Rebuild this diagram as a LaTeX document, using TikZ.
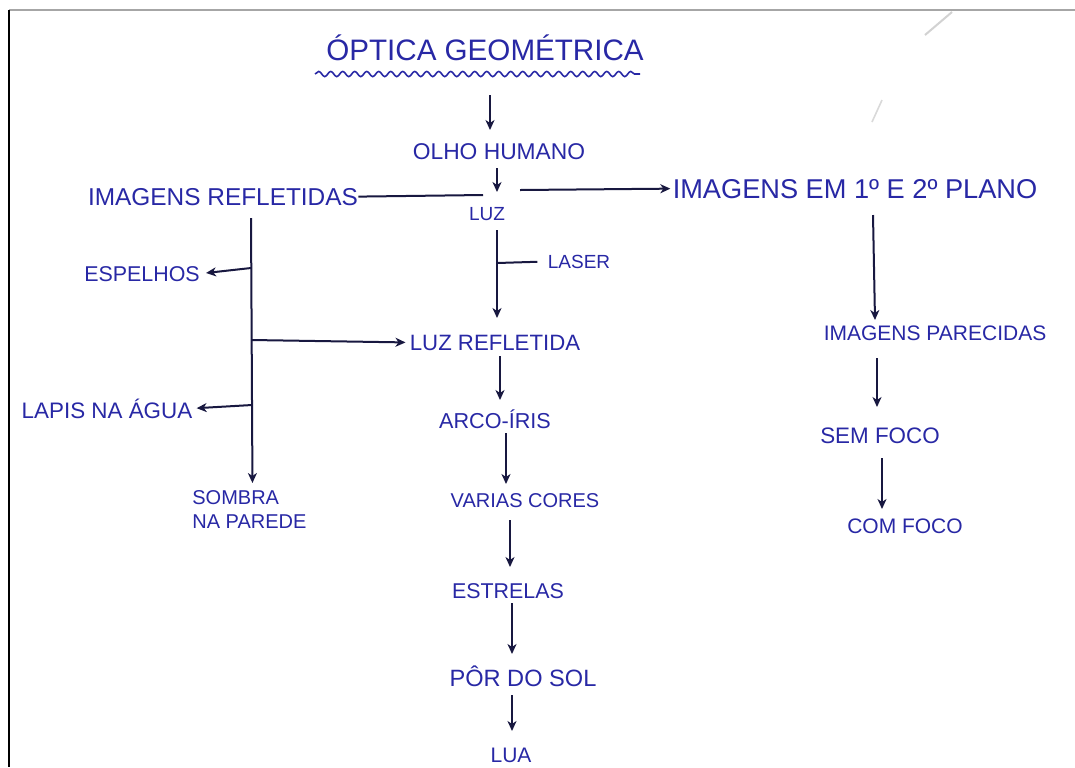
\documentclass[tikz,border=0pt]{standalone}
\usepackage{fontspec}
\setmainfont{Liberation Sans}
\usetikzlibrary{arrows.meta,decorations.pathmorphing}
\definecolor{ink}{RGB}{40,40,165}
\definecolor{pen}{RGB}{24,24,64}
\newcommand\fsz[1]{\fontsize{#1}{#1}\selectfont}
\begin{document}
\begin{tikzpicture}[x=0.5pt,y=-0.5pt,
  lbl/.style={text=ink, inner sep=0pt, anchor=base},
  arr/.style={draw=pen, line width=1pt, -{Stealth[length=5pt,width=4.5pt,inset=1.5pt]}},
  plain/.style={draw=pen, line width=1pt}]
\useasboundingbox (0,0) rectangle (1075,767);
\fill[white] (0,0) rectangle (1075,767);
% page border of the scan
\draw[gray!70, line width=1pt] (9,10) -- (1075,10);
\draw[black, line width=1pt] (9,10) -- (9,767);
% faint scan marks
\draw[gray!35, line width=1pt] (952,12) -- (925,35);
\draw[gray!30, line width=0.8pt] (882,100) -- (872,122);

% nodes
\node[lbl, font=\fsz{14.8}] (title) at (485,60) {ÓPTICA GEOMÉTRICA};
\node[lbl, font=\fsz{11.4}] (olho) at (499,159) {OLHO HUMANO};
\node[lbl, font=\fsz{9.5}] (luz) at (487,220) {LUZ};
\node[lbl, font=\fsz{12.2}] (imref) at (223,205) {IMAGENS REFLETIDAS};
\node[lbl, font=\fsz{13.6}] (implano) at (855,198) {IMAGENS EM 1º E 2º PLANO};
\node[lbl, font=\fsz{9.5}] (laser) at (579,268) {LASER};
\node[lbl, font=\fsz{10.7}] (espelhos) at (142,281) {ESPELHOS};
\node[lbl, font=\fsz{11.1}] (luzref) at (495,350) {LUZ REFLETIDA};
\node[lbl, font=\fsz{11.2}] (lapis) at (107,418) {LAPIS NA ÁGUA};
\node[text=ink, inner sep=0pt, anchor=north west, align=left, font=\fontsize{10}{12}\selectfont] (sombra) at (192,490) {SOMBRA\\NA PAREDE};
\node[lbl, font=\fsz{10.8}] (arco) at (495,428) {ARCO-ÍRIS};
\node[lbl, font=\fsz{10}] (varias) at (525,507) {VARIAS CORES};
\node[lbl, font=\fsz{10.7}] (estrelas) at (508,598) {ESTRELAS};
\node[lbl, font=\fsz{11.8}] (por) at (523,686) {PÔR DO SOL};
\node[lbl, font=\fsz{10.5}] (lua) at (511,762) {LUA};
\node[lbl, font=\fsz{10.5}] (imparec) at (935,340) {IMAGENS PARECIDAS};
\node[lbl, font=\fsz{11.2}] (semfoco) at (880,443) {SEM FOCO};
\node[lbl, font=\fsz{10.5}] (comfoco) at (905,533) {COM FOCO};

% wavy underline of the title
\draw[ink, line width=0.8pt, decorate, decoration={snake, amplitude=1.3pt, segment length=6pt}]
  ([shift={(-170,14)}]title.base) -- ([shift={(155,14)}]title.base);

% junction coordinates
\coordinate (jl) at ([shift={(-4,-25)}]luz.base);
\coordinate (jr) at ([shift={(33,-30)}]luz.base);
\coordinate (l1) at ([shift={(10,43)}]luz.base);
\coordinate (t0) at ([shift={(28,13)}]imref.base);
\coordinate (b1) at ([shift={(28,63)}]imref.base);
\coordinate (b2) at ([shift={(29,135)}]imref.base);
\coordinate (b3) at ([shift={(29,200)}]imref.base);

% central column
\draw[arr] ([shift={(5,35)}]title.base) -- ([shift={(-9,-29)}]olho.base);
\draw[arr] ([shift={(-2,9)}]olho.base) -- ([shift={(10,-28)}]luz.base);
\draw[arr] ([shift={(10,10)}]luz.base) -- ([shift={(2,-32)}]luzref.base);
\draw[plain, shorten >=5pt] (l1) -- (laser.west);
\draw[arr] ([shift={(5,6)}]luzref.base) -- ([shift={(5,-28)}]arco.base);
\draw[arr] ([shift={(11,5)}]arco.base) -- ([shift={(-19,-23)}]varias.base);
\draw[arr] ([shift={(-15,13)}]varias.base) -- ([shift={(2,-31)}]estrelas.base);
\draw[arr] ([shift={(4,5)}]estrelas.base) -- ([shift={(-11,-32)}]por.base);
\draw[arr] ([shift={(-11,9)}]por.base) -- ([shift={(1,-31)}]lua.base);

% LUZ to the sides
\draw[plain] (imref.east) -- (jl);
\draw[arr, shorten >=1pt] (jr) -- (implano.west);

% left trunk
\draw[arr] (t0) -- ([shift={(3,-7)}]sombra.north);
\draw[arr, shorten >=3pt] (b1) -- (espelhos.east);
\draw[arr, shorten >=2pt] (b2) -- (luzref.west);
\draw[arr, shorten >=2pt] (b3) -- (lapis.east);

% right column
\draw[arr] ([shift={(18,17)}]implano.base) -- ([shift={(-60,-20)}]imparec.base);
\draw[arr] ([shift={(-58,18)}]imparec.base) -- ([shift={(-3,-36)}]semfoco.base);
\draw[arr] ([shift={(2,15)}]semfoco.base) -- ([shift={(-23,-24)}]comfoco.base);
\end{tikzpicture}
\end{document}
